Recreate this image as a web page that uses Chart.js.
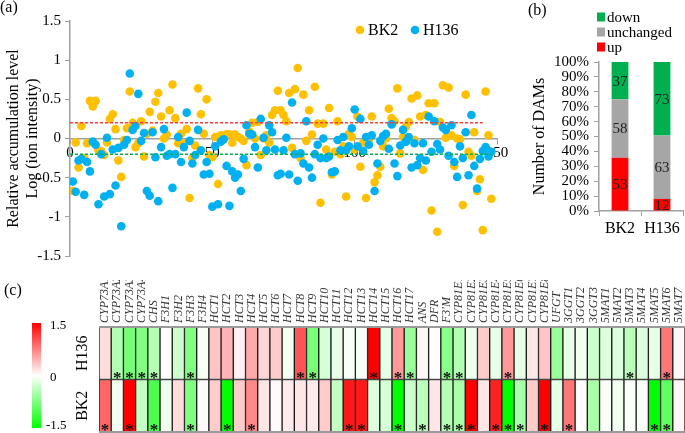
<!DOCTYPE html>
<html>
<head>
<meta charset="utf-8">
<script src="https://cdn.jsdelivr.net/npm/chart.js@4.4.0/dist/chart.umd.min.js"></script>
<style>
  body { margin: 0; background: #fff; width: 685px; height: 433px; overflow: hidden; position: relative; }
  .panel { position: absolute; }
  .warm { position: absolute; left: -999px; top: 0; font-family: "Liberation Serif"; }
</style>
</head>
<body>
<span class="warm">Font warm <i>italic</i> <b>bold</b></span>
<div class="panel" style="left:0;top:0"><canvas id="scatter" width="510" height="275"></canvas></div>
<div class="panel" style="left:490px;top:0"><canvas id="dams" width="195" height="245"></canvas></div>
<div class="panel" style="left:0;top:280px"><canvas id="heat" width="685" height="153"></canvas></div>
<script>
// (a) relative accumulation level, log(ion intensity), metabolites 1..148
const bk2Log = [
  -0.67, -0.05, -0.37, 0.16, -0.25, -0.06, 0.48, 0.41, 0.48, -0.15,
  -0.16, -0.21, -0.05, 0.25, 0.31, 0.12, -0.28, -0.49, -0.02, 0.13,
  0.6, 0.2, -0.11, -0.06, 0.22, -0.23, 0.06, 0.34, 0.1, 0.47,
  0.58, 0.28, 0, 0.05, 0.36, 0.69, 0.26, -0.06, 0.06, -0.06,
  0.12, -0.76, -0.25, -0.09, 0.64, 0.31, 0.06, 0.5, -0.21, -0.24,
  0.02, -0.58, 0.04, 0.04, 0.055, 0.055, -0.055, 0.05, 0.02, 0,
  -0.03, -0.34, 0.09, 0.2, 0, 0.21, -0.21, 0, 0.04, -0.05,
  0.3, 0.36, 0.61, 0.36, 0.3, 0.22, 0.58, -0.12, 0.63, 0.9,
  -0.25, 0.56, -0.03, 0.36, 0.05, 0.66, 0.19, -0.82, 0.19, -0.14,
  0.39, -0.46, -0.17, 0.22, -0.2, -0.1, -0.74, 0.06, 0.02, -0.14,
  0.28, -0.36, -0.05, -0.76, -0.02, 0.28, -0.56, -0.47, -0.36, -0.1,
  0, 0.38, 0.26, 0.22, 0.64, -0.19, 0.02, 0.15, 0.21, 0.51,
  -0.02, 0.55, 0.28, -0.4, 0.3, 0.45, -0.92, 0.45, -1.19, 0.21,
  0.68, 0.01, 0.65, 0.04, -0.35, 0, -0.01, -0.85, 0.56, -0.17,
  -0.22, 0.08, -0.67, -0.52, -1.17, 0.6, 0.04, -0.77
];
const h136Log = [
  -0.55, -0.68, -0.28, -0.26, -0.72, -0.3, -0.42, -0.04, -0.08, -0.84,
  -0.2, -0.74, 0.01, -0.71, -0.14, -0.6, -0.12, -1.12, -0.08, -0.02,
  0.83, 0.11, 0.16, 0.57, -0.03, 0.07, -0.67, -0.73, 0.08, -0.24,
  -0.8, -0.11, 0.12, -0.22, -0.2, -0.63, -0.2, 0.02, -0.3, -0.11,
  0.33, -0.03, -0.32, -0.21, 0.11, -0.15, -0.46, -0.3, -0.45, -0.87,
  -0.1, -0.84, -0.04, -0.01, -0.35, -0.86, -0.42, -0.5, -0.46, -0.67,
  -0.26, 0.17, 0.06, 0.05, -0.11, -0.37, 0.25, 0.01, -0.15, 0.17,
  0.08, -0.14, -0.47, -0.45, -0.15, 0.01, -0.46, 0.46, -0.2, -0.54,
  -0.19, -0.32, 0.22, -0.37, -0.5, -0.2, -0.08, -0.25, 0, -0.25,
  -0.23, -0.43, -0.42, -0.02, -0.15, 0.02, -0.15, -0.1, 0.13, 0.37,
  -0.1, 0.25, -0.16, 0.02, -0.08, 0.04, -0.67, -0.32, -0.03, 0.03,
  0.06, -0.13, 0.18, -0.32, -0.48, -0.09, 0.11, -0.04, 0.02, -0.37,
  -0.06, -0.34, -0.25, -0.06, -0.28, 0.28, -0.17, 0.22, -0.07, -0.14,
  0.14, 0.11, -0.22, 0.17, -0.3, -0.49, -0.1, -0.25, 0.08, -0.47,
  0.3, -0.35, -0.64, -0.26, -0.16, -0.11, -0.23, -0.17
];
const upCutoff = 0.2;
const downCutoff = -0.2;

// (b) number of DAMs
const damGroups = ['BK2', 'H136'];
const damUp = [53, 12];
const damUnchanged = [58, 63];
const damDown = [37, 73];

// (c) gene expression heatmap
const genes = ['CYP73A1', 'CYP73A2', 'CYP73A3', 'CYP73A4', 'CHS', 'F3H1', 'F3H2', 'F3H3', 'F3H4',
  'HCT1', 'HCT2', 'HCT3', 'HCT4', 'HCT5', 'HCT6', 'HCT7', 'HCT8', 'HCT9', 'HCT10', 'HCT11', 'HCT12',
  'HCT13', 'HCT14', 'HCT15', 'HCT16', 'HCT17', 'ANS', 'DFR', "F3'M", 'CYP81E1', 'CYP81E2', 'CYP81E3',
  'CYP81E4', 'CYP81E5', 'CYP81E6', 'CYP81E7', 'CYP81E8', 'UFGT', '3GGT1', '3GGT2', '3GGT3',
  '5MAT1', '5MAT2', '5MAT3', '5MAT4', '5MAT5', '5MAT6', '5MAT7'];
const heatH136 = [0.2, -0.45, -0.8, -0.75, -0.45, 0.02, -0.3, -0.75, -0.05, 0.35, 0.45, 0.08, 0.5, 0.25, 0.3, -0.07,
  1.0, -0.8, -0.25, -0.15, -0.05, -0.05, 1.5, -0.15, 0.6, -0.6, 0.05, 0, -0.7, -0.45, -0.1, 0.3,
  -0.15, 0.6, -0.15, 0.15, 0.35, -0.6, -0.15, -0.08, -0.3, -0.2, -0.2, -0.4, -0.2, -0.15, 0.8, 0.05];
const heatBK2 = [0.9, -0.08, 1.5, -0.35, -1.05, -0.1, 0.2, -0.75, 0.03, 0.3, -1.5, 0.3, 0.7, 0.15, 0.03, 0.12,
  0.15, 0.12, 0.3, -0.35, 1.35, 1.35, -0.2, -0.25, -1.5, -0.3, -0.4, 0.15, -0.45, -0.5, 1.5, 0.15,
  1.3, -1.5, -0.5, 0.3, 1.5, -0.15, 0.8, 0.02, -0.5, -0.03, -0.08, -0.03, -0.05, -1.5, -0.95, 0.05];
const sigH136 = [0, 1, 1, 1, 1, 0, 0, 1, 0, 0, 0, 0, 0, 0, 0, 0, 1, 1, 0, 0, 0, 0, 1, 0,
  1, 1, 0, 0, 1, 1, 0, 0, 0, 1, 0, 0, 0, 0, 0, 0, 0, 0, 0, 1, 0, 0, 1, 0];
const sigBK2 = [1, 0, 1, 0, 1, 0, 0, 1, 0, 0, 1, 0, 1, 0, 0, 0, 0, 0, 0, 0, 1, 1, 0, 0,
  1, 0, 1, 0, 1, 1, 1, 0, 1, 1, 1, 0, 1, 0, 1, 0, 0, 0, 0, 0, 0, 1, 1, 0];

const serif = '"Liberation Serif", "Times New Roman", serif';
const axisGrey = '#a0a0a0';

function panelLabel(text, x, y) {
  return {
    id: 'label' + text.replace(/\W/g, ''),
    afterDraw(chart) {
      const ctx = chart.ctx;
      ctx.save();
      ctx.font = '16px ' + serif;
      ctx.fillStyle = '#000';
      ctx.textBaseline = 'middle';
      ctx.fillText(text, x, y);
      ctx.restore();
    }
  };
}

function heatColor(v) {
  const t = Math.min(Math.abs(v) / 1.5, 1);
  const c = Math.round(255 * (1 - t));
  return v >= 0 ? `rgb(255,${c},${c})` : `rgb(${c},255,${c})`;
}

function drawAll() {
  Chart.defaults.font.family = serif;
  Chart.defaults.color = '#000';

  // ---------- (a) scatter ----------
  const scatterLegend = {
    id: 'scatterLegend',
    afterDraw(chart) {
      const ctx = chart.ctx;
      ctx.save();
      ctx.font = '16px ' + serif;
      ctx.textBaseline = 'middle';
      chart.data.datasets.slice(0, 2).forEach((ds, i) => {
        const x = 360 + i * 55;
        ctx.fillStyle = ds.backgroundColor;
        ctx.beginPath();
        ctx.arc(x, 30, 4.3, 0, Math.PI * 2);
        ctx.fill();
        ctx.fillStyle = '#000';
        ctx.fillText(ds.label, x + 8, 31);
      });
      ctx.restore();
    }
  };

  new Chart(document.getElementById('scatter'), {
    type: 'scatter',
    data: {
      datasets: [
        { label: 'BK2', data: bk2Log.map((v, i) => ({ x: i + 1, y: v })), backgroundColor: '#FFC000',
          pointRadius: 4.3, borderWidth: 0, order: 2 },
        { label: 'H136', data: h136Log.map((v, i) => ({ x: i + 1, y: v })), backgroundColor: '#00B0F0',
          pointRadius: 4.3, borderWidth: 0, order: 1 },
        { type: 'line', label: 'up', data: [{ x: 0, y: upCutoff }, { x: 145, y: upCutoff }],
          borderColor: '#ff3b3b', borderDash: [3, 2], borderWidth: 1.5, pointRadius: 0, order: 0 },
        { type: 'line', label: 'down', data: [{ x: 0, y: downCutoff }, { x: 148, y: downCutoff }],
          borderColor: '#00B050', borderDash: [3, 2], borderWidth: 1.5, pointRadius: 0, order: 0 }
      ]
    },
    options: {
      responsive: false,
      animation: false,
      layout: { padding: { top: 21, right: 13, bottom: 19, left: 0 } },
      plugins: { legend: { display: false }, tooltip: { enabled: false } },
      scales: {
        x: {
          type: 'linear', min: 0, max: 150, position: { y: 0 },
          ticks: { stepSize: 50, font: { size: 15 }, padding: 1 },
          grid: { drawOnChartArea: false, tickLength: 5, color: axisGrey },
          border: { color: axisGrey, width: 1.5 }
        },
        y: {
          min: -1.5, max: 1.5,
          ticks: { stepSize: 0.5, font: { size: 15 }, padding: 4, callback: v => String(v) },
          grid: { drawOnChartArea: false, tickLength: 5, color: axisGrey },
          border: { color: axisGrey, width: 1.5 },
          title: { display: true, text: ['Relative accumulation level', 'Log (ion intensity)'],
            font: { size: 16 }, padding: { top: 4, bottom: 0 } },
          afterFit(s) { s.width = 70; }
        }
      }
    },
    plugins: [scatterLegend, panelLabel('(a)', 0, 8)]
  });

  // ---------- (b) stacked percentage bars ----------
  const damTotals = damGroups.map((g, i) => damUp[i] + damUnchanged[i] + damDown[i]);
  const toPct = arr => arr.map((v, i) => v / damTotals[i] * 100);

  const damLegend = {
    id: 'damLegend',
    afterDraw(chart) {
      const ctx = chart.ctx;
      ctx.save();
      ctx.font = '15px ' + serif;
      ctx.textBaseline = 'middle';
      [...chart.data.datasets].reverse().forEach((ds, i) => {
        const y = 17 + i * 15;
        ctx.fillStyle = ds.backgroundColor;
        ctx.fillRect(107, y - 4.5, 8, 9);
        ctx.fillStyle = '#000';
        ctx.fillText(ds.label, 117, y + 1);
      });
      ctx.restore();
    }
  };
  const damCounts = {
    id: 'damCounts',
    afterDatasetsDraw(chart) {
      const ctx = chart.ctx;
      ctx.save();
      ctx.font = '15px ' + serif;
      ctx.fillStyle = '#222';
      ctx.textAlign = 'center';
      ctx.textBaseline = 'middle';
      chart.data.datasets.forEach((ds, d) => {
        chart.getDatasetMeta(d).data.forEach((bar, i) => {
          ctx.fillText(ds.counts[i], bar.x, (bar.y + bar.base) / 2 + 1);
        });
      });
      ctx.restore();
    }
  };

  new Chart(document.getElementById('dams'), {
    type: 'bar',
    data: {
      labels: damGroups,
      datasets: [
        { label: 'up', data: toPct(damUp), counts: damUp, backgroundColor: '#FF0000' },
        { label: 'unchanged', data: toPct(damUnchanged), counts: damUnchanged, backgroundColor: '#A6A6A6' },
        { label: 'down', data: toPct(damDown), counts: damDown, backgroundColor: '#00B050' }
      ]
    },
    options: {
      responsive: false,
      animation: false,
      barPercentage: 0.4,
      categoryPercentage: 1,
      layout: { padding: { top: 62, right: 2, bottom: 0, left: 0 } },
      plugins: { legend: { display: false }, tooltip: { enabled: false } },
      scales: {
        x: {
          stacked: true,
          ticks: { font: { size: 16 }, padding: 3 },
          grid: { drawOnChartArea: false, tickLength: 5, color: axisGrey },
          border: { color: axisGrey, width: 1.5 },
          afterFit(s) { s.height = 34; }
        },
        y: {
          stacked: true, min: 0, max: 100,
          ticks: { stepSize: 10, autoSkip: false, font: { size: 15 }, padding: 5, callback: v => v + '%' },
          grid: { drawOnChartArea: false, tickLength: 5, color: axisGrey },
          border: { color: axisGrey, width: 1.5 },
          title: { display: true, text: 'Number of DAMs', font: { size: 16 }, padding: { top: 40, bottom: 0 } },
          afterFit(s) { s.width = 109; }
        }
      }
    },
    plugins: [damLegend, damCounts, panelLabel('(b)', 38, 11)]
  });

  // ---------- (c) heatmap ----------
  const heatExtras = {
    id: 'heatExtras',
    afterDraw(chart) {
      const ctx = chart.ctx;
      const area = chart.chartArea;
      const xs = chart.scales.x, ys = chart.scales.y;
      ctx.save();
      // frame
      ctx.strokeStyle = '#9a9a9a';
      ctx.lineWidth = 2;
      ctx.beginPath();
      ctx.moveTo(area.left, area.top); ctx.lineTo(area.right, area.top);
      ctx.moveTo(area.left, area.bottom); ctx.lineTo(area.right, area.bottom);
      ctx.stroke();
      // gene names, read upward from the top of the map
      ctx.fillStyle = '#333';
      ctx.font = 'italic 12px ' + serif;
      ctx.textAlign = 'left';
      ctx.textBaseline = 'middle';
      chart.data.labels.forEach((g, i) => {
        ctx.save();
        ctx.translate(xs.getPixelForValue(i), area.top - 4);
        ctx.rotate(-Math.PI / 2);
        ctx.fillText(g, 0, 0);
        ctx.restore();
      });
      // significance marks
      ctx.fillStyle = '#111';
      ctx.font = 'bold 17px ' + serif;
      ctx.textAlign = 'center';
      ctx.textBaseline = 'alphabetic';
      [[sigBK2, 0], [sigH136, 1]].forEach(([sig, row]) => {
        const yb = ys.getPixelForValue(row);
        sig.forEach((s, i) => {
          if (s) ctx.fillText('*', xs.getPixelForValue(i), yb + 3);
        });
      });
      // row labels
      ctx.font = '16px ' + serif;
      ctx.fillStyle = '#000';
      ctx.textAlign = 'center';
      ctx.textBaseline = 'middle';
      [['BK2', 0.5], ['H136', 1.5]].forEach(([t, v]) => {
        ctx.save();
        ctx.translate(83, ys.getPixelForValue(v));
        ctx.rotate(-Math.PI / 2);
        ctx.fillText(t, 0, 0);
        ctx.restore();
      });
      // colour key
      const g = ctx.createLinearGradient(0, 43, 0, 148);
      g.addColorStop(0, '#ff0000');
      g.addColorStop(0.5, '#ffffff');
      g.addColorStop(1, '#00ff00');
      ctx.fillStyle = g;
      ctx.fillRect(32, 43, 9, 105);
      ctx.fillStyle = '#000';
      ctx.font = '13px ' + serif;
      ctx.textAlign = 'left';
      ctx.fillText('1.5', 50, 46);
      ctx.fillText('0', 50, 98);
      ctx.fillText('-1.5', 46, 146);
      ctx.restore();
    }
  };

  new Chart(document.getElementById('heat'), {
    type: 'bar',
    data: {
      labels: genes,
      datasets: [
        { label: 'BK2', data: genes.map(() => 1), backgroundColor: heatBK2.map(heatColor) },
        { label: 'H136', data: genes.map(() => 1), backgroundColor: heatH136.map(heatColor) }
      ]
    },
    options: {
      responsive: false,
      animation: false,
      barPercentage: 1,
      categoryPercentage: 1,
      borderWidth: 1,
      borderColor: '#1a1a1a',
      borderSkipped: false,
      layout: { padding: { top: 0, right: 0, bottom: 1, left: 99 } },
      plugins: { legend: { display: false }, tooltip: { enabled: false } },
      scales: {
        x: {
          stacked: true, position: 'top',
          ticks: { display: false },
          grid: { display: false, drawTicks: false },
          border: { display: false },
          afterFit(s) { s.height = 47; }
        },
        y: { stacked: true, min: 0, max: 2, display: false }
      }
    },
    plugins: [heatExtras, panelLabel('(c)', 4, 11)]
  });
}

Promise.all([
  document.fonts.load('16px "Liberation Serif"'),
  document.fonts.load('italic 12px "Liberation Serif"'),
  document.fonts.load('bold 17px "Liberation Serif"')
]).then(drawAll, drawAll);
</script>
</body>
</html>
